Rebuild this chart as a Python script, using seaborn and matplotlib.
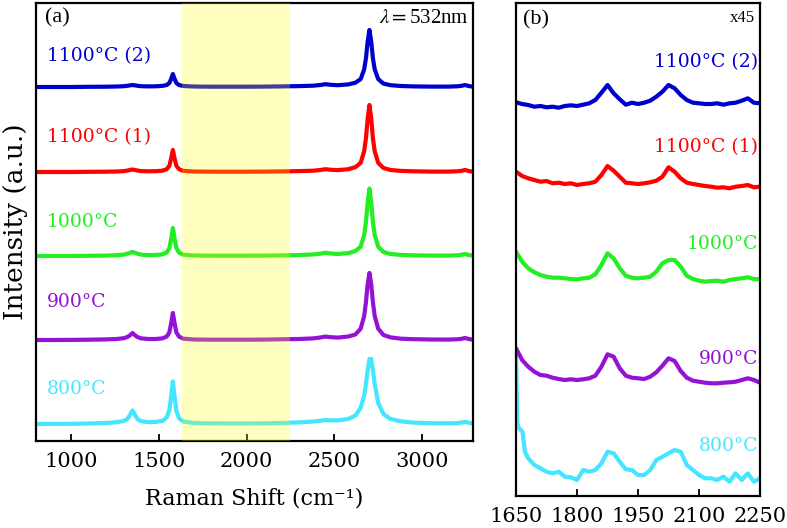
import numpy as np
import matplotlib
matplotlib.use("Agg")
import matplotlib.pyplot as plt
import seaborn as sns

## Data (heights above each curve's own baseline)

# panel (a): full spectra
x_a = [800, 900, 1000, 1100, 1200, 1260, 1300, 1320, 1335, 1350,
       1365, 1380, 1400, 1440, 1480, 1520, 1545, 1560, 1570, 1580,
       1590, 1600, 1615, 1640, 1700, 1800, 1900, 2000, 2100, 2200,
       2300, 2380, 2420, 2450, 2480, 2520, 2580, 2620, 2650, 2670,
       2680, 2690, 2700, 2710, 2720, 2730, 2750, 2780, 2820, 2880,
       2950, 3050, 3150, 3200, 3225, 3245, 3265, 3290]

a_800 = [0, 0.1, 0.2, 0.5, 1.0, 1.8, 3.0, 4.8, 8.8, 13.5,
         8.8, 4.6, 2.8, 1.8, 2.0, 3.0, 6.5, 14.0, 27.0, 42.5,
         27.0, 13.0, 5.8, 2.4, 1.0, 0.6, 0.5, 0.5, 0.6, 1.0,
         1.6, 2.5, 3.2, 4.0, 3.6, 3.6, 5.1, 8.4, 16.2, 28.5,
         40.0, 53.6, 65.0, 65.0, 53.6, 40.0, 21.0, 9.9, 5.0, 2.6,
         1.4, 0.8, 0.7, 0.9, 1.4, 2.2, 1.2, 0.5]
a_900 = [0, 0, 0.1, 0.3, 0.6, 1.0, 1.8, 2.9, 4.6, 7.0,
         4.6, 2.8, 1.6, 1.0, 1.0, 1.6, 3.4, 7.6, 16.5, 27.0,
         16.5, 7.6, 3.4, 1.3, 0.5, 0.3, 0.3, 0.3, 0.4, 0.7,
         1.0, 1.6, 2.5, 3.4, 2.8, 2.4, 3.5, 5.5, 11.3, 24.0,
         37.5, 56.0, 67.0, 56.0, 37.5, 24.0, 11.3, 5.0, 2.6, 1.3,
         0.8, 0.5, 0.4, 0.7, 1.2, 2.0, 1.0, 0.3]
a_1000 = [0, 0, 0, 0.2, 0.4, 0.8, 1.4, 2.3, 3.2, 4.0,
          3.2, 2.2, 1.3, 0.9, 1.0, 1.6, 3.5, 7.9, 17.0, 28.0,
          17.0, 7.9, 3.5, 1.3, 0.5, 0.3, 0.3, 0.3, 0.4, 0.6,
          1.0, 1.5, 2.3, 3.2, 2.5, 2.0, 2.9, 5.0, 9.3, 21.0,
          33.8, 54.0, 67.5, 54.0, 33.8, 21.0, 9.3, 4.0, 2.0, 1.1,
          0.7, 0.4, 0.4, 0.7, 1.2, 2.0, 1.0, 0.3]
a_1100_1 = [0, 0, 0, 0.2, 0.3, 0.5, 0.9, 1.4, 2.0, 2.5,
            2.0, 1.4, 0.9, 0.7, 0.8, 1.3, 2.8, 6.2, 13.4, 22.0,
            13.4, 6.2, 2.8, 1.1, 0.5, 0.3, 0.3, 0.3, 0.4, 0.6,
            0.9, 1.3, 2.0, 2.8, 2.2, 1.9, 2.8, 4.9, 9.2, 20.8,
            33.5, 53.6, 67.0, 53.6, 33.5, 20.8, 9.2, 4.0, 2.0, 1.1,
            0.7, 0.4, 0.4, 0.7, 1.2, 2.0, 1.0, 0.3]
a_1100_2 = [0, 0, 0, 0.2, 0.3, 0.5, 0.8, 1.2, 1.6, 2.0,
            1.6, 1.2, 0.8, 0.6, 0.7, 1.1, 2.0, 4.0, 8.0, 13.0,
            8.0, 4.0, 2.0, 1.0, 0.5, 0.3, 0.3, 0.3, 0.4, 0.6,
            0.9, 1.3, 2.0, 2.8, 2.2, 1.8, 2.6, 4.3, 7.9, 17.7,
            28.5, 45.6, 57.0, 45.6, 28.5, 17.7, 7.9, 3.4, 1.8, 1.0,
            0.6, 0.4, 0.4, 0.7, 1.2, 2.0, 1.0, 0.3]

# panel (b): 1650-2250 region, x45
x_b = [1650, 1665, 1680, 1695, 1710, 1725, 1740, 1755, 1770, 1785,
       1800, 1815, 1830, 1845, 1860, 1875, 1890, 1905, 1920, 1935,
       1950, 1965, 1980, 1995, 2010, 2025, 2040, 2055, 2070, 2085,
       2100, 2115, 2130, 2145, 2160, 2175, 2190, 2205, 2220, 2235, 2250]
x_b800 = [1650, 1653, 1657, 1662, 1666, 1672, 1680, 1695, 1710, 1725,
          1740, 1755, 1770, 1785, 1800, 1815, 1830, 1845, 1860, 1875,
          1890, 1905, 1920, 1935, 1950, 1965, 1980, 1995, 2010, 2025,
          2040, 2055, 2070, 2085, 2100, 2115, 2130, 2145, 2160, 2175,
          2190, 2205, 2220, 2235, 2250]

b_800 = [115, 47, 42, 40, 38, 18, 11.7, 5.0, 1.7, -1.7,
         -3.3, -1.7, -6.7, -7.3, -10.0, 0.0, -1.7, 0.0, 6.7, 18.3,
         16.7, 8.3, 0.7, 0.0, -5.0, -5.0, 0.0, 10.0, 13.3, 16.7,
         20.0, 18.3, 5.0, 0.0, -5.0, -8.3, -8.3, -10.0, -6.7, -11.7,
         -3.3, -10.0, -3.3, -11.7, -8.3]
b_900 = [29.7, 18.0, 11.3, 6.3, 3.0, 2.3, 0.3, -1.0, -2.0, -1.3,
         -2.0, -1.3, -0.3, 2.3, 11.3, 23.7, 21.3, 9.7, 2.3, 0.3,
         -0.3, -1.0, 1.3, 5.7, 12.3, 19.7, 17.0, 7.0, 0.3, -2.7,
         -3.7, -4.7, -5.3, -5.3, -4.7, -4.3, -3.7, -2.0, -0.3, -2.0, -4.7]
b_1000 = [26.3, 16.3, 9.7, 5.7, 3.0, 1.3, 0.3, 0.3, -0.3, -1.0,
          -1.3, -0.3, 0.3, 3.7, 13.0, 24.7, 19.7, 9.7, 2.3, 0.3,
          -0.3, 0.3, 1.3, 6.3, 14.7, 18.0, 18.0, 11.3, 2.3, -1.0,
          -2.7, -3.7, -3.0, -2.7, -3.7, -2.0, -1.0, -0.3, 0.7, -1.0, -1.3]
b_1100_1 = [11.3, 7.0, 4.7, 3.0, 1.3, 2.0, -0.3, 0.3, -1.0, -0.3,
            -2.0, -1.0, -0.3, 1.3, 8.0, 17.0, 12.3, 6.3, 0.3, -0.3,
            -1.0, -0.3, 0.7, 2.3, 6.3, 15.7, 11.3, 4.7, 0.3, -1.0,
            -2.0, -3.0, -3.7, -4.7, -4.3, -5.3, -3.7, -3.0, -2.0, -4.3, -3.7]
b_1100_2 = [2.7, 1.0, 0.0, -1.7, -1.0, -2.3, -1.7, -2.7, -1.0, -0.3,
            -1.0, 0.3, 1.7, 5.0, 12.3, 20.0, 11.7, 5.7, 0.3, 2.3,
            1.0, 2.3, 4.3, 8.3, 13.3, 20.0, 16.7, 10.0, 5.0, 2.3,
            1.7, 1.0, 1.0, 1.7, 0.3, 1.7, 2.3, 4.3, 6.7, 2.3, 1.7]

labels = ['800°C', '900°C', '1000°C', '1100°C (1)', '1100°C (2)']
colors = ['#44e6ff', '#9412d6', '#22ee22', '#ff0000', '#0000cc']

## Plot

sns.set_theme(style='ticks')
plt.rcParams['font.family'] = ['DejaVu Serif']
plt.rcParams['mathtext.fontset'] = 'stix'
plt.rcParams['text.color'] = 'black'
plt.rcParams['axes.labelcolor'] = 'black'
plt.rcParams['xtick.color'] = 'black'
plt.rcParams['xtick.labelcolor'] = 'black'

fig = plt.figure(figsize=(7.87, 5.28), dpi=100)
ax1 = fig.add_axes([0.0457, 0.1648, 0.5553, 0.8295])
ax2 = fig.add_axes([0.6557, 0.0606, 0.31, 0.9337])

# vertical stacking of the curves
off_a = [17, 101, 185, 269, 354]
off_b = [26, 118, 218, 313, 391]

spectra_a = [a_800, a_900, a_1000, a_1100_1, a_1100_2]
spectra_b = [b_800, b_900, b_1000, b_1100_1, b_1100_2]
xs_b = [x_b800, x_b, x_b, x_b, x_b]

lab_a_y = [52, 139, 219, 304, 385]
lab_b_y = [50, 137, 252, 349, 434]

for i in range(5):
    sns.lineplot(x=x_a, y=np.array(spectra_a[i]) + off_a[i], ax=ax1,
                 color=colors[i], lw=3, estimator=None, sort=False, zorder=2)
    ax1.text(863, lab_a_y[i], labels[i], color=colors[i], fontsize=13.5,
             ha='left', va='center')

    sns.lineplot(x=xs_b[i], y=np.array(spectra_b[i]) + off_b[i], ax=ax2,
                 color=colors[i], lw=3, estimator=None, sort=False, zorder=2)
    ax2.text(2245, lab_b_y[i], labels[i], color=colors[i], fontsize=13.5,
             ha='right', va='center')

# highlighted region shown magnified in (b)
ax1.axvspan(1630, 2250, color='yellow', alpha=0.25, lw=0, zorder=3)

ax1.set_xlim(800, 3290)
ax1.set_ylim(0, 438)
ax1.set_xticks([1000, 1500, 2000, 2500, 3000])
ax1.set_yticks([])
ax1.set_xlabel('Raman Shift (cm⁻¹)', fontsize=16, labelpad=12)
ax1.set_ylabel('Intensity (a.u.)', fontsize=19, labelpad=6)
ax1.text(0.02, 0.965, '(a)', transform=ax1.transAxes, fontsize=16,
         family='Liberation Serif', ha='left', va='center')
ax1.text(0.99, 0.965, r'$\lambda = $532nm', transform=ax1.transAxes,
         fontsize=15, family='Liberation Serif', ha='right', va='center')

ax2.set_xlim(1650, 2250)
ax2.set_ylim(0, 493)
ax2.set_xticks([1650, 1800, 1950, 2100, 2250])
ax2.set_yticks([])
ax2.text(0.03, 0.966, '(b)', transform=ax2.transAxes, fontsize=16,
         family='Liberation Serif', ha='left', va='center')
ax2.text(0.98, 0.97, 'x45', transform=ax2.transAxes, fontsize=12,
         family='Liberation Serif', ha='right', va='center')

for ax in (ax1, ax2):
    for s in ax.spines.values():
        s.set_visible(True)
        s.set_linewidth(1.6)
        s.set_color('black')
    ax.tick_params(axis='x', direction='in', length=5, width=1.3,
                   labelsize=15, pad=8, colors='black')
    ax.set_facecolor('white')

fig.savefig('out.png', dpi=100)
